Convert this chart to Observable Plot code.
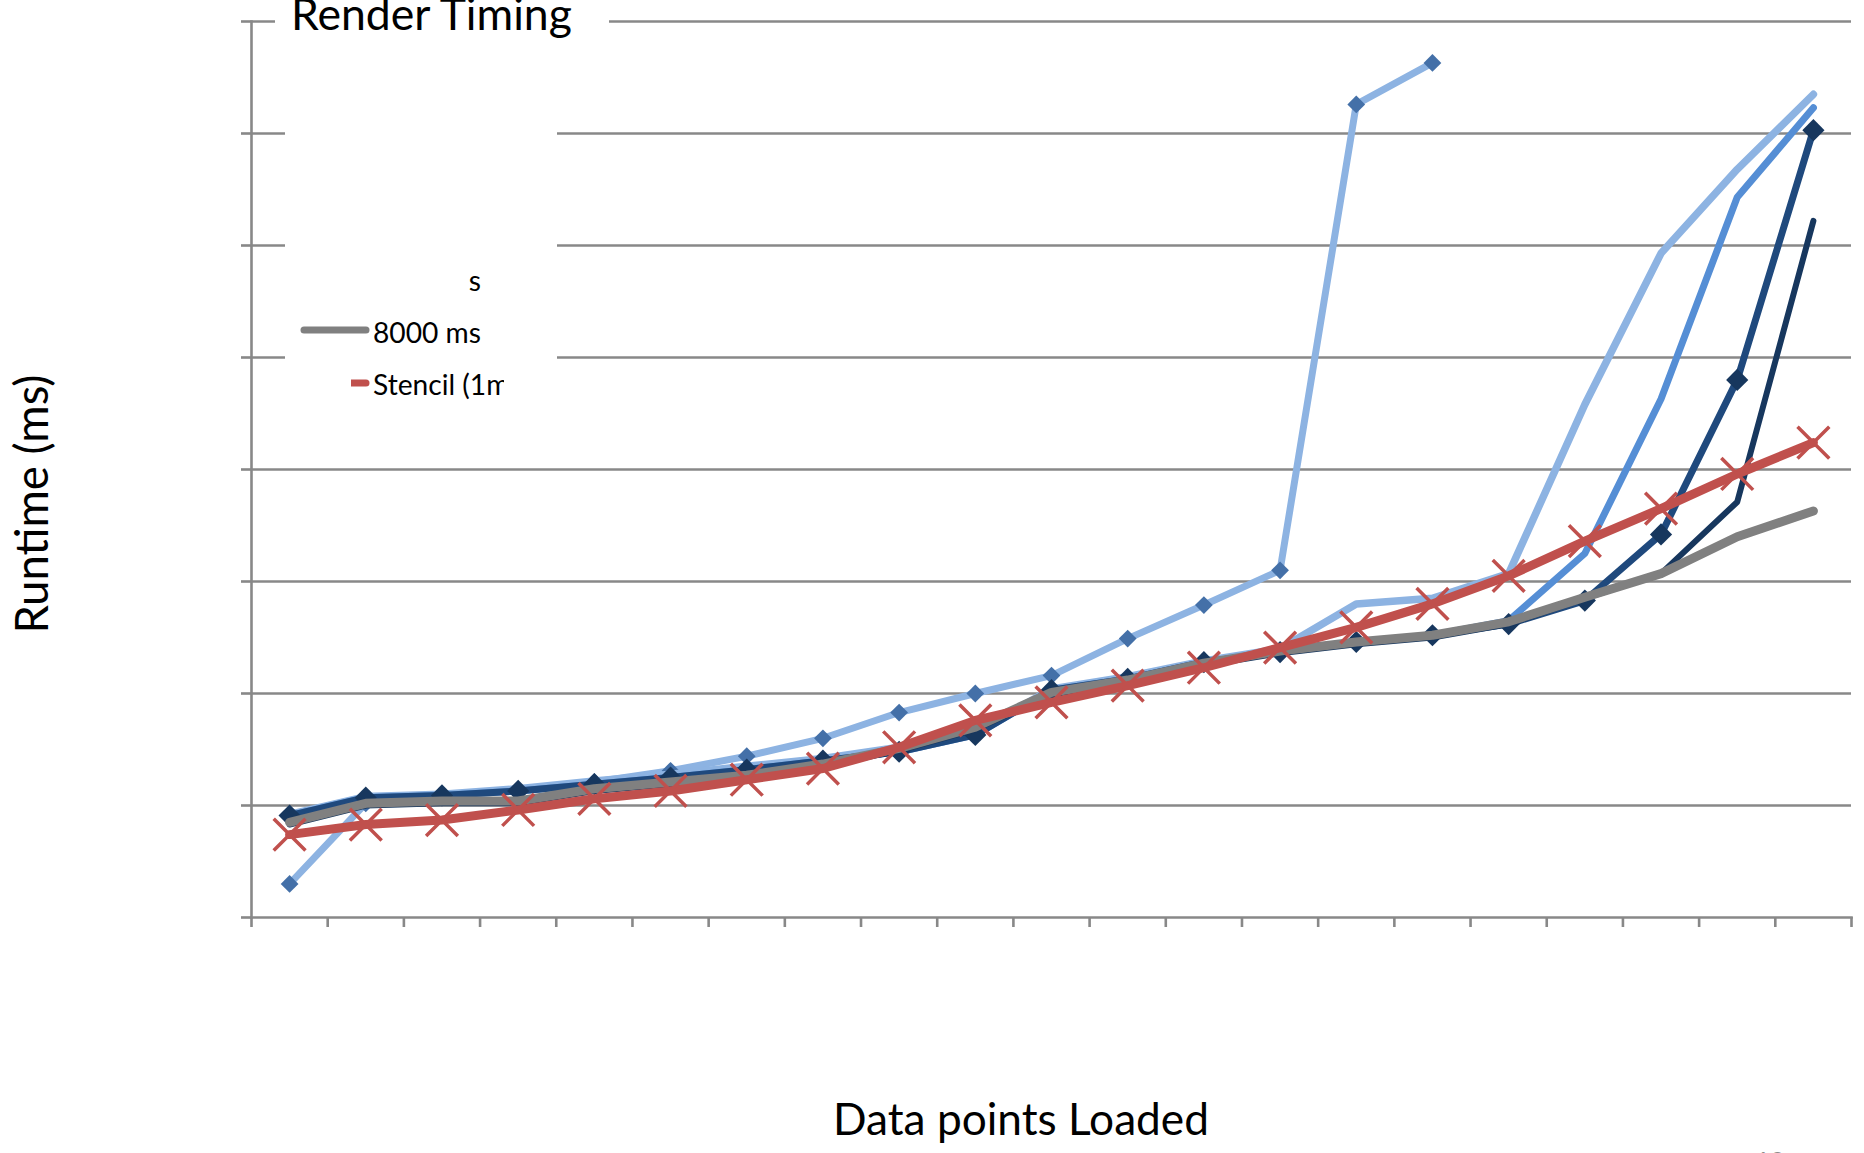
<!DOCTYPE html>
<html>
<head>
<meta charset="utf-8">
<script src="https://cdn.jsdelivr.net/npm/d3@7"></script>
<script src="https://cdn.jsdelivr.net/npm/@observablehq/plot@0.6"></script>
<style>
html, body { margin: 0; padding: 0; background: #ffffff; }
#page { position: relative; width: 1864px; height: 1153px; overflow: hidden; font-family: Lato, "Noto Sans", sans-serif; }
#page > svg { position: absolute; left: 0; top: 0; }
</style>
</head>
<body>
<div id="page"></div>
<script>
// ---- data (y in gridline units, 8 gridline steps) ----
const categories = ["1","2","3","4","5","6","7","8","9","10","11","12","13","14","15","16","17","18","19","20","21"];
const yTicks = [0, 1, 2, 3, 4, 5, 6, 7, 8];

const seriesNames = ["250 ms", "500 ms", "1000 ms", "2000 ms", "4000 ms", "8000 ms", "Stencil (1ms)"];
const s250  = [0.30,1.02,1.09,1.14,1.21,1.31,1.44,1.60,1.83,2.00,2.16,2.49,2.79,3.10,7.26,7.63,null,null,null,null,null];
const s500  = [0.92,1.08,1.10,1.15,1.22,1.28,1.35,1.42,1.52,1.65,2.04,2.15,2.29,2.40,2.80,2.85,3.07,4.58,5.93,6.68,7.35];
const s1000 = [0.91,1.07,1.09,1.13,1.19,1.25,1.32,1.40,1.48,1.63,2.03,2.13,2.28,2.37,2.46,2.52,2.65,3.25,4.63,6.43,7.23];
const s2000 = [0.91,1.07,1.09,1.13,1.19,1.25,1.32,1.40,1.48,1.63,2.03,2.13,2.28,2.37,2.46,2.52,2.62,2.83,3.42,4.80,7.03];
const s4000 = [0.83,1.00,1.02,1.02,1.13,1.19,1.25,1.35,1.49,1.68,1.99,2.10,2.25,2.36,2.44,2.50,2.62,2.85,3.07,3.71,6.22];
const s8000 = [0.85,1.02,1.04,1.04,1.15,1.21,1.27,1.37,1.51,1.70,2.01,2.12,2.27,2.38,2.46,2.52,2.64,2.86,3.07,3.40,3.63];
const sStencil = [0.74,0.83,0.87,0.96,1.06,1.13,1.23,1.33,1.52,1.76,1.92,2.07,2.23,2.41,2.59,2.80,3.05,3.36,3.65,3.96,4.24];

// ---- build tables ----
const toRows = (arr) => arr.map((v, i) => ({i, cat: categories[i], v})).filter(d => d.v != null);
const A = toRows(s250), B = toRows(s500), C = toRows(s1000), D = toRows(s2000),
      E = toRows(s4000), F = toRows(s8000), G = toRows(sStencil);
const xBounds = categories.map((c, i) => i - 0.5).concat([categories.length - 0.5]);

const axisColor = "#888888";
const lineOpts = (color, w) => ({x: "i", y: "v", stroke: color, strokeWidth: w, strokeLinejoin: "round", strokeLinecap: "round"});

const chart = Plot.plot({
  width: 1864,
  height: 960,
  marginLeft: 251,
  marginRight: 13,
  marginTop: 21,
  marginBottom: 43,
  style: {background: "transparent", overflow: "visible"},
  x: {type: "linear", domain: [-0.5, categories.length - 0.5], axis: null},
  y: {domain: [0, 8], axis: null},
  marks: [
    Plot.gridY({ticks: yTicks.slice(1), stroke: axisColor, strokeOpacity: 1, strokeWidth: 2.6}),
    Plot.axisY({ticks: yTicks, tickSize: 10, tickFormat: () => "", label: null, stroke: axisColor, strokeWidth: 2.6}),
    Plot.axisX({ticks: xBounds, tickSize: 10, tickFormat: () => "", label: null, stroke: axisColor, strokeWidth: 2.6}),
    Plot.frame({anchor: "left", stroke: axisColor, strokeWidth: 2.6}),
    Plot.frame({anchor: "bottom", stroke: axisColor, strokeWidth: 2.6}),
    // 250 ms
    Plot.line(A, lineOpts("#8DB3E2", 7)),
    Plot.dot(A, {x: "i", y: "v", symbol: "diamond2", r: 8, fill: "#4470A8"}),
    // 500 ms
    Plot.line(B, lineOpts("#8DB3E2", 7.5)),
    // 1000 ms
    Plot.line(C, lineOpts("#558ED5", 7)),
    // 2000 ms
    Plot.line(D, lineOpts("#1F497D", 7)),
    Plot.dot(D, {x: "i", y: "v", symbol: "diamond2", r: 10, fill: "#17375E"}),
    // 4000 ms
    Plot.line(E, lineOpts("#17375E", 6)),
    // 8000 ms
    Plot.line(F, lineOpts("#808080", 9)),
    // Stencil
    Plot.line(G, lineOpts("#C0504D", 9)),
    Plot.dot(G, {x: "i", y: "v", symbol: "times", r: 14.5, stroke: "#C0504D", strokeWidth: 3.5, fill: "none"})
  ]
});

const page = document.getElementById("page");
page.appendChild(chart);

// ---- overlay: title, legend fragments, axis titles ----
const ov = d3.select(page).append("svg")
  .attr("width", 1864).attr("height", 1153)
  .attr("font-family", "Lato, 'Noto Sans', sans-serif");

function fit(sel, target) {
  const base = 48;
  sel.attr("font-size", base);
  const w = sel.node().getComputedTextLength();
  if (w > 0) sel.attr("font-size", base * target / w);
  return sel;
}

const defs = ov.append("defs");
defs.append("clipPath").attr("id", "clipS").append("rect").attr("x", 468).attr("y", 250).attr("width", 30).attr("height", 60);
defs.append("clipPath").attr("id", "clipStencil").append("rect").attr("x", 351).attr("y", 350).attr("width", 504 - 351).attr("height", 70);

// white areas hiding grid behind title and legend
ov.append("rect").attr("x", 275).attr("y", 0).attr("width", 334).attr("height", 42).attr("fill", "#fff");
ov.append("rect").attr("x", 285).attr("y", 100).attr("width", 272).attr("height", 320).attr("fill", "#fff");

// title
fit(ov.append("text").attr("x", 291).attr("y", 30).attr("fill", "#000").text("Render Timing"), 281);

// legend fragments
const gS = ov.append("g").attr("clip-path", "url(#clipS)");
fit(gS.append("text").attr("x", 373).attr("y", 291).attr("fill", "#000").text(seriesNames[4]), 108);

ov.append("line").attr("x1", 304).attr("x2", 366).attr("y1", 330).attr("y2", 330)
  .attr("stroke", "#808080").attr("stroke-width", 7).attr("stroke-linecap", "round");
fit(ov.append("text").attr("x", 373).attr("y", 343).attr("fill", "#000").text(seriesNames[5]), 108);

const gSt = ov.append("g").attr("clip-path", "url(#clipStencil)");
gSt.append("line").attr("x1", 304).attr("x2", 366).attr("y1", 383).attr("y2", 383)
  .attr("stroke", "#C0504D").attr("stroke-width", 7).attr("stroke-linecap", "round");
const st = gSt.append("text").attr("x", 373).attr("y", 395).attr("fill", "#000").text(seriesNames[6]);
const stSize = +ov.select("text:nth-of-type(1)").attr("font-size");
st.attr("font-size", d3.select(ov.selectAll("text").nodes()[2]).attr("font-size"));

// axis titles
fit(ov.append("text").attr("text-anchor", "middle")
  .attr("transform", "translate(48,504) rotate(-90)").attr("fill", "#000").text("Runtime (ms)"), 259);
fit(ov.append("text").attr("text-anchor", "middle").attr("x", 1021).attr("y", 1135)
  .attr("fill", "#000").text("Data points Loaded"), 376);

// slide number (cut off at bottom)
fit(ov.append("text").attr("x", 1755).attr("y", 1170).attr("fill", "#8c8c8c").text("10"), 30);
</script>
</body>
</html>
